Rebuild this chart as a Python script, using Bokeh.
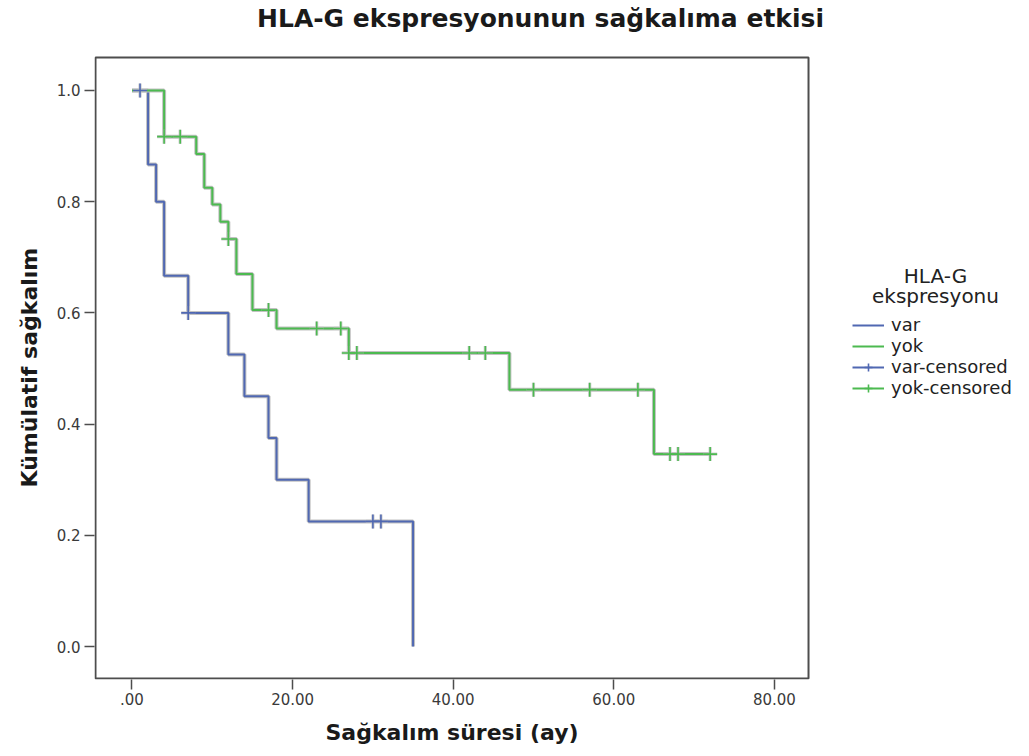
from bokeh.plotting import figure
from bokeh.models import (FixedTicker, Legend, LegendItem, Range1d, Label, Title,
                          BoxAnnotation)
from bokeh.embed import file_html
from bokeh.resources import INLINE

# ---- data ----
var_time = [0, 2, 3, 4, 7, 12, 14, 17, 18, 22, 35]
var_surv = [1.0, 0.867, 0.800, 0.667, 0.600, 0.525, 0.450, 0.375, 0.300, 0.225, 0.0]
var_cens_time = [1, 7, 30, 31]
var_cens_surv = [1.0, 0.600, 0.225, 0.225]

yok_time = [0, 4, 8, 9, 10, 11, 12, 13, 15, 18, 27, 47, 65, 72]
yok_surv = [1.0, 0.917, 0.886, 0.825, 0.795, 0.764, 0.733, 0.670, 0.605, 0.572,
            0.528, 0.462, 0.346, 0.346]
yok_cens_time = [4, 6, 12, 17, 23, 26, 27, 28, 42, 44, 50, 57, 63, 67, 68, 72]
yok_cens_surv = [0.917, 0.917, 0.733, 0.605, 0.572, 0.572, 0.528, 0.528, 0.528,
                 0.528, 0.462, 0.462, 0.462, 0.346, 0.346, 0.346]

x_ticks = [0, 20, 40, 60, 80]
x_tick_labels = [".00", "20.00", "40.00", "60.00", "80.00"]
y_ticks = [0.0, 0.2, 0.4, 0.6, 0.8, 1.0]
y_tick_labels = ["0.0", "0.2", "0.4", "0.6", "0.8", "1.0"]

group_labels = ["var", "yok"]
censor_labels = ["var-censored", "yok-censored"]
legend_title_lines = ["HLA-G", "ekspresyonu"]

# plot box extent (data units) and the wider frame that also hosts title/legend
BOX_X = (-4.545, 84.25)
BOX_Y = (-0.0576, 1.0594)
FRAME_X = (-4.67, 111.77)
FRAME_Y = (-0.05935, 1.16187)

BLUE = "#5068b2"
GREEN = "#4cba50"
HALO = "#c2c2c2"
AXIS = "#4d4d4d"
FONT = "DejaVu Sans"

p = figure(width=1029, height=756, output_backend="svg", toolbar_location=None,
           x_range=Range1d(*FRAME_X), y_range=Range1d(*FRAME_Y),
           min_border_left=94, min_border_right=0, min_border_top=0,
           min_border_bottom=77, background_fill_color="white",
           border_fill_color="white", title=None)

p.grid.visible = False
p.outline_line_color = None

# the plot box
p.add_layout(BoxAnnotation(left=BOX_X[0], right=BOX_X[1], bottom=BOX_Y[0],
                           top=BOX_Y[1], fill_color=None, fill_alpha=0,
                           line_color=AXIS, line_alpha=1.0, line_width=2))

for ax in (p.xaxis[0], p.yaxis[0]):
    ax.axis_line_color = None
    ax.major_tick_line_color = AXIS
    ax.major_tick_line_width = 1.5
    ax.major_tick_out = 10
    ax.major_tick_in = 0
    ax.minor_tick_line_color = None
    ax.major_label_text_font = FONT
    ax.major_label_text_font_size = "15px"
    ax.major_label_text_color = "#3a3a3a"

p.xaxis.ticker = FixedTicker(ticks=x_ticks)
p.xaxis.major_label_overrides = dict(zip(x_ticks, x_tick_labels))
p.xaxis.major_label_standoff = 3

p.yaxis.ticker = FixedTicker(ticks=y_ticks)
p.yaxis.major_label_overrides = dict(zip(y_ticks, y_tick_labels))
p.yaxis.major_label_standoff = 4

# x-axis title, centred under the plot box
p.add_layout(Title(text="Sağkalım süresi (ay)", text_font=FONT,
                   text_font_size="22px", text_font_style="bold",
                   text_color="#1a1a1a", align="left", offset=231,
                   standoff=20, vertical_align="bottom"), "below")

# y-axis title, centred beside the plot box
p.add_layout(Title(text="Kümülatif sağkalım", text_font=FONT,
                   text_font_size="22px", text_font_style="bold",
                   text_color="#1a1a1a", align="left", offset=192,
                   standoff=22, vertical_align="middle"), "left")

# chart title
p.add_layout(Label(x=446, y=661, x_units="screen", y_units="screen",
                   text="HLA-G ekspresyonunun sağkalıma etkisi",
                   text_font=FONT, text_font_size="25px", text_font_style="bold",
                   text_color="#1a1a1a", text_align="center",
                   text_baseline="middle"))

var_halo = p.step(var_time, var_surv, mode="after", line_color=HALO, line_width=4)
var_line = p.step(var_time, var_surv, mode="after", line_color=BLUE, line_width=2)
yok_halo = p.step(yok_time, yok_surv, mode="after", line_color=HALO, line_width=4)
yok_line = p.step(yok_time, yok_surv, mode="after", line_color=GREEN, line_width=2)

var_ch = p.scatter(var_cens_time, var_cens_surv, marker="cross", size=14,
                   line_color=HALO, line_width=3.2, line_alpha=0.8)
var_c = p.scatter(var_cens_time, var_cens_surv, marker="cross", size=14,
                  line_color=BLUE, line_width=1.6)
yok_ch = p.scatter(yok_cens_time, yok_cens_surv, marker="cross", size=14,
                   line_color=HALO, line_width=3.2, line_alpha=0.8)
yok_c = p.scatter(yok_cens_time, yok_cens_surv, marker="cross", size=14,
                  line_color=GREEN, line_width=1.6)

legend = Legend(items=[
    LegendItem(label=group_labels[0], renderers=[var_line]),
    LegendItem(label=group_labels[1], renderers=[yok_line]),
    LegendItem(label=censor_labels[0], renderers=[var_line, var_c]),
    LegendItem(label=censor_labels[1], renderers=[yok_line, yok_c]),
], location=(758, 281), border_line_color=None,
   background_fill_alpha=0, label_text_font=FONT, label_text_font_size="18px",
   label_text_color="#222222", glyph_width=32, glyph_height=20,
   label_height=20, spacing=0, label_standoff=7, padding=8, margin=0)
p.add_layout(legend)

# legend title (two centred lines)
for txt, yy in zip(legend_title_lines, [404, 384]):
    p.add_layout(Label(x=841, y=yy, x_units="screen", y_units="screen",
                       text=txt, text_font=FONT, text_font_size="20px",
                       text_color="#222222", text_align="center",
                       text_baseline="middle"))

open("out.html", "w").write(file_html(p, INLINE))
